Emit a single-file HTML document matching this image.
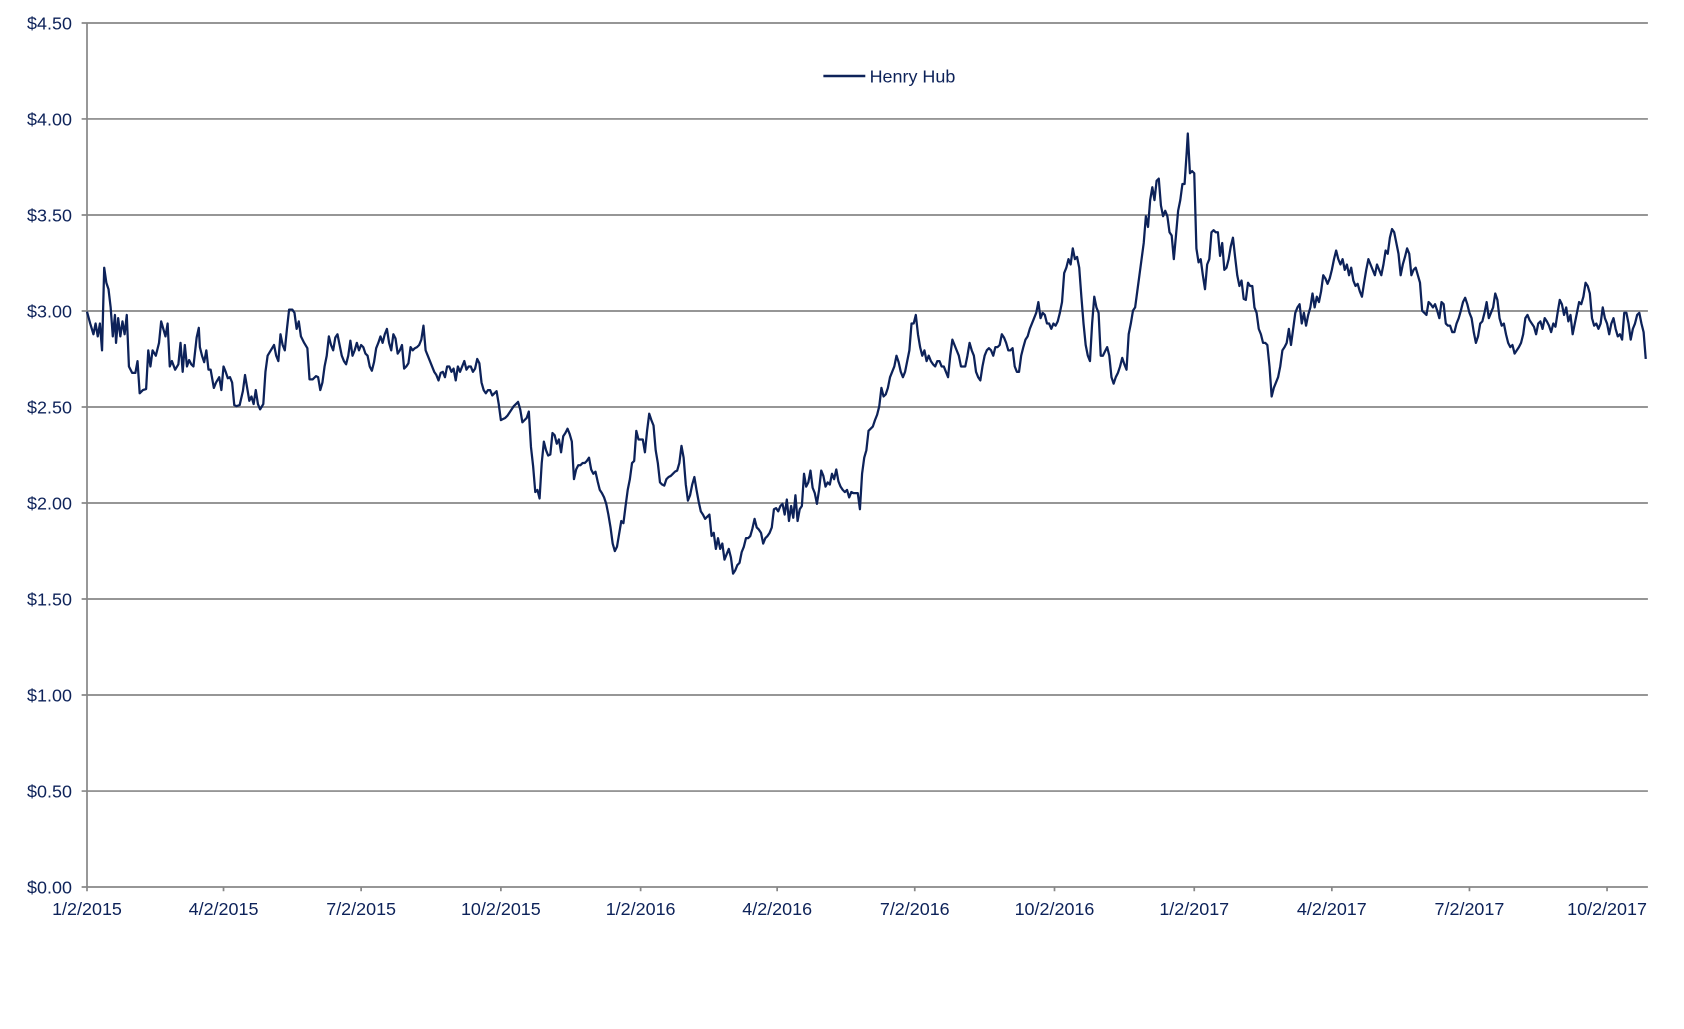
<!DOCTYPE html>
<html><head><meta charset="utf-8"><style>
html,body{margin:0;padding:0;background:#fff;}
svg{display:block;}
text{font-family:"Liberation Sans",Arial,sans-serif;fill:#0d2259;}
</style></head><body>
<svg width="1684" height="1029" viewBox="0 0 1684 1029" xmlns="http://www.w3.org/2000/svg">
<g transform="translate(87,23) scale(1.075,1.0733) translate(-81,-20)">
<g stroke="#878787" stroke-width="1.6" fill="none">
<path d="M76 20H1533M76 109.4H1533M76 198.9H1533M76 288.3H1533M76 377.8H1533M76 467.2H1533M76 556.7H1533M76 646.1H1533M76 735.6H1533M76 825H1533"/>
<path d="M81 20V825"/>
<path d="M81 825v4M208 825v4M336 825v4M466 825v4M596 825v4M723 825v4M851 825v4M981 825v4M1111 825v4M1239 825v4M1367 825v4M1495 825v4"/>
</g>
<g font-size="16.7" text-anchor="end">
<text x="67" y="26">$4.50</text><text x="67" y="115.4">$4.00</text><text x="67" y="204.9">$3.50</text><text x="67" y="294.3">$3.00</text><text x="67" y="383.8">$2.50</text><text x="67" y="473.2">$2.00</text><text x="67" y="562.7">$1.50</text><text x="67" y="652.1">$1.00</text><text x="67" y="741.6">$0.50</text><text x="67" y="831">$0.00</text>
</g>
<g font-size="16.7" text-anchor="middle">
<text x="81" y="851">1/2/2015</text><text x="208" y="851">4/2/2015</text><text x="336" y="851">7/2/2015</text><text x="466" y="851">10/2/2015</text><text x="596" y="851">1/2/2016</text><text x="723" y="851">4/2/2016</text><text x="851" y="851">7/2/2016</text><text x="981" y="851">10/2/2016</text><text x="1111" y="851">1/2/2017</text><text x="1239" y="851">4/2/2017</text><text x="1367" y="851">7/2/2017</text><text x="1495" y="851">10/2/2017</text>
</g>
<path d="M766 69.4H805" stroke="#0d2259" stroke-width="2.4"/>
<text x="809" y="75.5" font-size="16.7">Henry Hub</text>
<polyline fill="none" stroke="#0d2259" stroke-width="2.1" stroke-linejoin="round" points="81,289 84,300 87,310 89,300 91,312 93,300 95,325 97,248 99,262 101,268 103,285 105,312 107,292 108,318 110,295 112,312 114,298 116,310 118,292 120,340 123,346 126,346 128,335 130,365 133,362 136,361 138,325 140,340 142,325 145,330 148,318 150,298 152,305 154,312 156,300 158,340 160,335 163,343 166,338 168,318 170,345 172,320 174,340 176,334 178,338 180,340 183,313 185,304 186,322 188,330 190,336 192,325 194,343 196,343 199,360 201,355 204,350 206,362 208,340 210,345 212,351 214,350 216,355 218,376 220,377 223,376 226,363 228,348 230,360 232,372 234,368 236,375 238,362 240,375 242,380 245,375 247,345 249,330 252,325 255,320 257,330 259,335 261,310 263,320 265,325 267,305 269,287 272,287 274,290 276,305 278,298 280,312 283,318 286,323 288,352 291,352 294,349 296,350 298,362 300,355 302,340 304,330 306,312 308,320 310,325 312,313 314,310 316,320 318,330 320,335 322,338 324,330 326,316 328,330 330,325 332,318 334,325 336,320 338,322 340,328 342,330 344,340 346,344 348,336 350,323 352,318 354,312 356,318 358,310 360,305 362,318 364,325 366,310 368,314 370,328 372,325 374,320 376,342 378,340 380,337 382,322 384,325 386,323 388,322 390,320 392,315 394,302 396,325 398,330 400,335 402,340 404,345 406,348 408,353 410,346 412,345 414,350 416,340 418,340 420,345 422,342 424,353 426,340 428,345 430,340 432,335 434,343 436,340 438,340 440,345 442,342 444,333 446,337 448,355 450,362 452,365 454,362 456,362 458,367 460,365 462,363 464,375 466,390 468,389 470,388 472,386 474,383 476,380 478,377 480,375 482,373 484,380 486,392 488,390 490,388 492,382 494,415 496,433 498,457 500,455 502,463 504,430 506,410 508,418 510,423 512,422 514,402 516,404 518,412 520,408 522,420 524,405 526,402 528,398 530,403 532,410 534,445 536,436 538,432 540,432 542,430 544,430 546,428 548,425 550,436 552,440 554,438 556,447 558,455 560,458 562,462 564,468 566,478 568,490 570,505 572,512 574,508 576,496 578,484 580,486 582,470 584,455 586,445 588,430 590,428 592,400 594,408 596,408 598,408 600,420 602,400 604,384 606,390 608,395 610,418 612,430 614,448 616,450 618,451 620,445 622,443 624,442 626,440 628,438 630,437 632,430 634,414 636,425 638,450 640,465 642,460 644,450 646,443 648,455 650,466 652,475 654,478 656,482 658,480 660,478 662,498 664,495 666,510 668,500 670,510 672,505 674,520 676,515 678,510 680,518 682,533 684,530 686,525 688,523 690,513 692,508 694,500 696,500 698,498 700,491 702,482 704,490 706,492 708,495 710,505 712,500 714,498 716,495 718,490 720,473 722,472 724,475 726,470 728,468 730,478 732,464 734,484 736,470 738,481 740,460 742,484 744,473 746,470 748,440 750,452 752,448 754,437 756,453 758,458 760,468 762,455 764,437 766,442 768,452 770,448 772,450 774,440 776,445 778,436 780,447 782,452 784,455 786,457 788,455 790,462 792,457 794,458 796,458 798,458 800,473 802,440 804,425 806,418 808,400 810,398 812,396 814,390 816,385 818,377 820,360 822,368 824,366 826,360 828,350 830,345 832,340 834,330 836,336 838,345 840,350 842,345 844,335 846,325 848,300 850,300 852,292 854,310 856,322 858,330 860,325 862,335 864,330 866,335 868,338 870,340 872,335 874,335 876,340 878,340 880,345 882,350 884,330 886,315 888,320 890,325 892,330 894,340 896,340 898,340 900,330 902,318 904,325 906,330 908,345 910,350 912,353 914,340 916,330 918,325 920,323 922,325 924,330 926,322 928,322 930,320 932,310 934,313 936,318 938,325 940,325 942,323 944,340 946,345 948,345 950,330 952,322 954,315 956,312 958,305 960,300 962,295 964,290 966,280 968,295 970,290 972,292 974,300 976,300 978,305 980,300 982,302 984,298 986,290 988,280 990,253 992,248 994,240 996,245 998,230 1000,240 1002,238 1004,248 1006,275 1008,300 1010,320 1012,330 1014,335 1016,300 1018,275 1020,285 1022,290 1024,330 1026,330 1028,326 1030,322 1032,330 1034,350 1036,356 1038,350 1040,346 1042,340 1044,332 1046,338 1048,343 1050,310 1052,300 1054,288 1056,285 1058,270 1060,255 1062,240 1064,225 1066,200 1068,210 1070,185 1072,173 1074,185 1076,167 1078,165 1080,190 1082,200 1084,195 1086,200 1088,215 1090,218 1092,240 1094,218 1096,195 1098,185 1100,170 1102,170 1104,140 1105,123 1107,160 1109,158 1111,160 1113,230 1115,243 1117,240 1119,255 1121,268 1123,245 1125,240 1127,215 1129,213 1131,215 1133,215 1135,237 1137,225 1139,250 1141,248 1143,240 1145,228 1147,220 1149,238 1151,255 1153,265 1155,260 1157,277 1159,278 1161,262 1163,265 1165,265 1167,285 1169,290 1171,305 1173,310 1175,318 1177,318 1179,320 1181,340 1183,368 1185,360 1187,355 1189,350 1191,340 1193,325 1195,322 1197,318 1199,305 1201,320 1203,305 1205,290 1207,285 1209,282 1211,300 1213,290 1215,302 1217,292 1219,285 1221,272 1223,285 1225,275 1227,280 1229,270 1231,255 1233,258 1235,263 1237,258 1239,250 1241,240 1243,232 1245,240 1247,245 1249,240 1251,250 1253,245 1255,255 1257,248 1259,260 1261,265 1263,263 1265,270 1267,275 1269,262 1271,250 1273,240 1275,245 1277,250 1279,255 1281,245 1283,250 1285,255 1287,245 1289,232 1291,235 1293,220 1295,212 1297,215 1299,225 1301,235 1303,255 1305,245 1307,238 1309,230 1311,235 1313,255 1315,250 1317,248 1319,255 1321,262 1323,288 1325,290 1327,292 1329,280 1331,282 1333,285 1335,282 1337,288 1339,295 1341,280 1343,282 1345,300 1347,302 1349,302 1351,308 1353,308 1355,300 1357,295 1359,288 1361,280 1363,276 1365,282 1367,290 1369,295 1371,308 1373,318 1375,312 1377,300 1379,298 1381,290 1383,280 1385,295 1387,290 1389,285 1391,272 1393,278 1395,295 1397,302 1399,300 1401,310 1403,318 1405,322 1407,320 1409,328 1411,325 1413,322 1415,318 1417,310 1419,295 1421,292 1423,297 1425,300 1427,303 1429,310 1431,300 1433,298 1435,305 1437,295 1439,298 1441,302 1443,308 1445,300 1447,303 1449,290 1451,278 1453,282 1455,292 1457,285 1459,298 1461,292 1463,310 1465,300 1467,290 1469,280 1471,282 1473,275 1475,262 1477,265 1479,272 1481,295 1483,302 1485,300 1487,305 1489,300 1491,285 1493,295 1495,300 1497,310 1499,300 1501,295 1503,305 1505,312 1507,310 1509,315 1511,290 1513,290 1515,300 1517,315 1519,305 1521,300 1523,292 1525,290 1527,300 1529,308 1531,333"/>
</g>
</svg>
</body></html>
